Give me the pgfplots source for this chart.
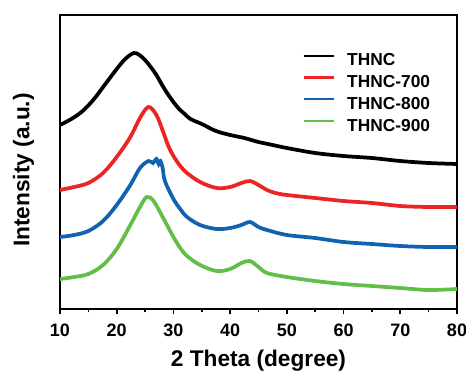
\documentclass[border=0pt]{standalone}
\usepackage{pgfplots}
\pgfplotsset{compat=1.18}
\usepackage{fontspec}
\setmainfont{Liberation Sans}
\definecolor{cred}{RGB}{237,36,36}
\definecolor{cblue}{RGB}{18,98,178}
\definecolor{cgreen}{RGB}{98,190,72}
\begin{document}
\begin{tikzpicture}
\begin{axis}[
  at={(0,0)}, anchor=south west,
  scale only axis, width=297.75pt, height=220.5pt,
  xmin=10, xmax=80, ymin=0, ymax=294,
  xtick={10,20,...,80}, minor x tick num=1,
  ytick=\empty,
  axis line style={line width=1.5pt},
  tick style={line width=1.2pt, black},
  xtick pos=bottom, tick align=outside,
  major tick length=4pt, minor tick length=2.5pt,
  /pgf/number format/assume math mode=true,
  ticklabel style={font=\fontsize{13.5}{15}\selectfont\bfseries},
  xticklabel style={yshift=-4pt},
  xlabel={2 Theta (degree)},
  ylabel={Intensity (a.u.)},
  label style={font=\fontsize{17}{20}\selectfont\bfseries},
  xlabel style={yshift=-3pt},
  ylabel style={yshift=12pt, xshift=-6pt},
  legend style={draw=none, fill=none, at={(0.61,0.88)}, anchor=north west,
    font=\fontsize{13}{15}\selectfont\bfseries, row sep=0pt,
    inner sep=0pt, nodes={inner sep=0pt, text height=11.5pt, text depth=4.8pt},
    /tikz/every odd column/.append style={column sep=9pt}},
  legend cell align=left,
  legend image code/.code={\draw[#1, line width=1.6pt] (0pt,4.2pt) -- (23pt,4.2pt);},
]
\addplot[black, line width=2.8pt, smooth, tension=0.55] coordinates {
(10,184)(12,190)(14,198)(16,210)(18,225)(20,240)(21.5,250)(23,256)(24,254)(25,249)(26,242)(27,234)(28,224)(29,215)(30,207)(31,200)(32,195)(33,190)(35,185)(37.5,178)(40,174)(42.5,171)(45,167)(47.5,164)(50,161)(55,156)(60,153)(65,151)(70,148)(75,146)(80,145)};
\addlegendentry{THNC}
\addplot[cred, line width=2.8pt, smooth, tension=0.55] coordinates {
(10,119)(12.5,122)(15,126)(17.6,136)(20,152)(22.4,172)(24.1,191)(25.6,202)(27,194)(28.2,177)(29.1,163)(30,153)(31.2,143)(32.4,136)(34.7,127)(37.6,121)(40,122)(42,126)(43.5,128)(45,124)(46.5,119)(48,116)(50,114)(55,111)(60,108)(65,106)(70,103)(75,102)(80,102)};
\addlegendentry{THNC-700}
\addplot[cblue, line width=2.8pt, smooth, tension=0.55] coordinates {
(10,72)(12.5,74)(15,78)(17.6,88)(20,104)(22.4,124)(24.1,141)(25.6,148)(26.4,146)(27,150)(27.4,145)(27.7,148)(28.1,141)(28.5,128)(30,110)(31.2,100)(32.4,92)(34.7,84)(37.6,80)(40,81)(42,84)(43.5,87)(45,82)(46.5,79)(50,74)(55,71)(60,67)(65,65)(70,63)(75,62)(80,62)};
\addlegendentry{THNC-800}
\addplot[cgreen, line width=2.8pt, smooth, tension=0.55] coordinates {
(10,30)(12.5,32)(15,35)(17.6,44)(20,60)(22.4,84)(24.1,102)(25.3,112)(26.5,108)(28.2,91)(30,72)(31.2,61)(32.4,53)(34.7,44)(37.6,38)(40,40)(42,46)(43.5,48)(45,42)(46.5,36)(50,32)(55,28)(60,25)(65,23)(70,21)(75,19)(80,20)};
\addlegendentry{THNC-900}
\end{axis}
\pgfresetboundingbox
\useasboundingbox (-45pt,-47.25pt) rectangle (304.5pt,231.75pt);
\end{tikzpicture}
\end{document}
